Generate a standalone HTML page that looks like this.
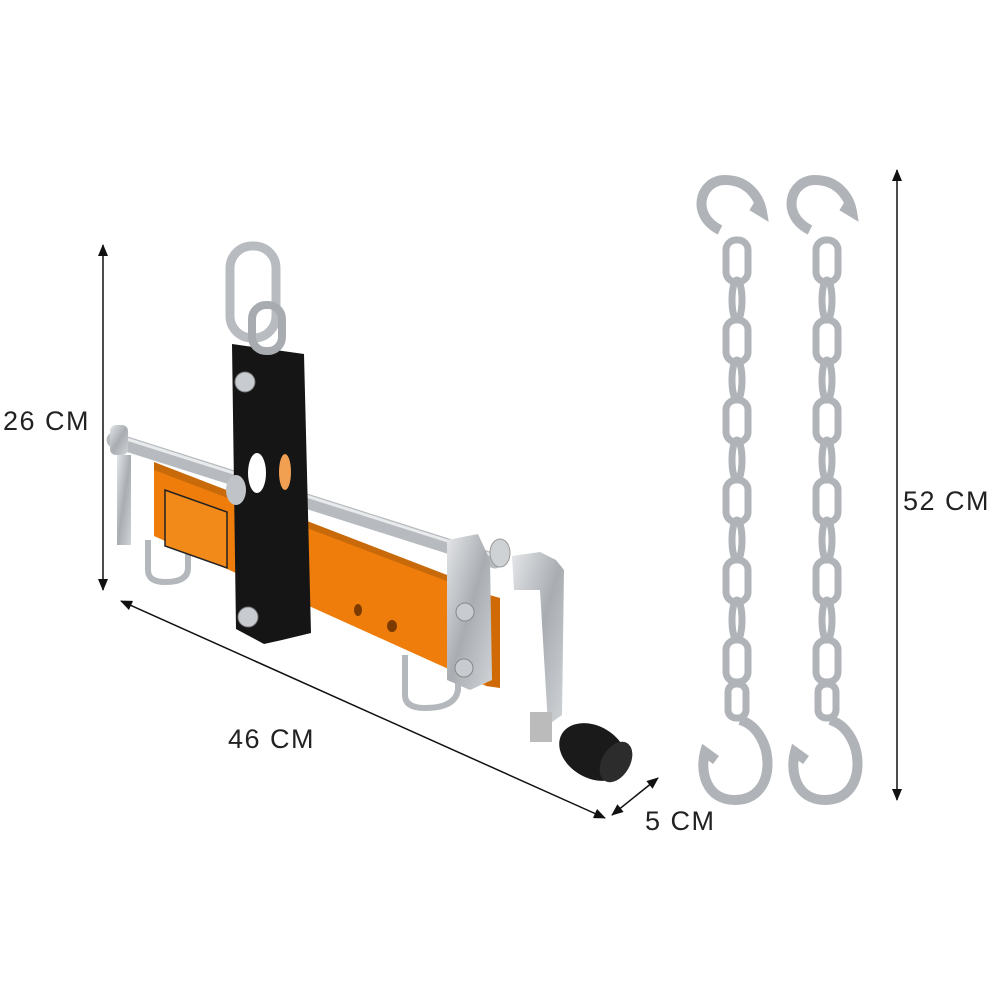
<!DOCTYPE html>
<html><head><meta charset="utf-8"><style>
html,body{margin:0;padding:0;background:#fff;}
svg{display:block}
text{font-family:"Liberation Sans",sans-serif;font-size:27px;fill:#222;letter-spacing:1.5px;}
</style></head><body>
<svg width="1000" height="1000" viewBox="0 0 1000 1000" xmlns="http://www.w3.org/2000/svg">
<defs>
<marker id="ar" markerWidth="12" markerHeight="10" refX="11" refY="5" orient="auto-start-reverse" markerUnits="userSpaceOnUse"><path d="M0,0 L12,5 L0,10 z" fill="#111"/></marker>
<linearGradient id="zinc" x1="0" y1="0" x2="1" y2="1"><stop offset="0" stop-color="#e4e6e8"/><stop offset="0.5" stop-color="#a9adb2"/><stop offset="1" stop-color="#d0d3d6"/></linearGradient>
</defs>
<line x1="103" y1="245" x2="103" y2="590" stroke="#111" stroke-width="1.5" marker-start="url(#ar)" marker-end="url(#ar)"/>
<text x="3" y="430">26 CM</text>
<line x1="121" y1="601" x2="605" y2="818" stroke="#111" stroke-width="1.5" marker-start="url(#ar)" marker-end="url(#ar)"/>
<text x="228" y="748">46 CM</text>
<line x1="612" y1="815" x2="658" y2="778" stroke="#111" stroke-width="1.5" marker-start="url(#ar)" marker-end="url(#ar)"/>
<text x="645" y="830">5 CM</text>
<line x1="897" y1="170" x2="897" y2="800" stroke="#111" stroke-width="1.5" marker-start="url(#ar)" marker-end="url(#ar)"/>
<text x="903" y="510">52 CM</text>

<path d="M148,540 L148,570 Q148,582 165,582 Q188,582 188,568 L188,545" fill="none" stroke="#b4b8bc" stroke-width="6"/>
<path d="M405,655 L405,695 Q405,708 425,708 Q455,708 458,690 L458,662" fill="none" stroke="#b4b8bc" stroke-width="6"/>
<polygon points="154,466 486,594 486,686 154,536" fill="#ee7d0c"/>
<polygon points="154,462 486,590 486,596 154,470" fill="#c96a0a"/>
<polygon points="486,594 500,598 500,688 486,686" fill="#d06a06"/>
<polygon points="165,490 227,512 227,568 165,546" fill="#f28a1a" stroke="#222" stroke-width="1.5"/>
<ellipse cx="358" cy="610" rx="4" ry="6" fill="#7a3a00"/>
<ellipse cx="392" cy="626" rx="5" ry="6" fill="#7a3a00"/>
<line x1="114" y1="440" x2="495" y2="561" stroke="#b7bbbf" stroke-width="15" stroke-linecap="round"/>
<line x1="114" y1="435" x2="495" y2="556" stroke="#e8eaec" stroke-width="3"/>
<rect x="110" y="425" width="18" height="30" rx="6" fill="url(#zinc)"/>
<rect x="117" y="455" width="14" height="90" fill="url(#zinc)"/>
<polygon points="447,540 478,534 490,560 492,680 470,690 447,680" fill="url(#zinc)"/>
<circle cx="465" cy="612" r="9" fill="#c8ccd0" stroke="#888"/>
<circle cx="464" cy="668" r="9" fill="#c8ccd0" stroke="#888"/>
<ellipse cx="500" cy="553" rx="10" ry="14" fill="#cfd2d5" stroke="#999"/>
<polygon points="512,556 540,552 556,560 564,570 562,715 548,725 540,590 514,590" fill="url(#zinc)"/>
<rect x="530" y="712" width="22" height="30" fill="#bbb"/>
<ellipse cx="593" cy="752" rx="36" ry="26" fill="#1a1a1a" transform="rotate(30 593 752)"/>
<ellipse cx="616" cy="762" rx="14" ry="22" fill="#2c2c2c" transform="rotate(30 616 762)"/>
<polygon points="232,344 304,354 311,633 282,640 264,644 236,629" fill="#151515"/>
<ellipse cx="257" cy="473" rx="9" ry="20" fill="#fff"/>
<ellipse cx="285" cy="472" rx="6" ry="18" fill="#f0a050"/>
<circle cx="245" cy="382" r="10" fill="#c8ccd0" stroke="#777"/>
<circle cx="248" cy="617" r="10" fill="#c8ccd0" stroke="#777"/>
<ellipse cx="236" cy="490" rx="10" ry="15" fill="#c0c4c8"/>
<rect x="230" y="246" width="46" height="92" rx="22" fill="none" stroke="#b8bcc0" stroke-width="9"/>
<rect x="252" y="305" width="30" height="46" rx="14" fill="none" stroke="#a8acb0" stroke-width="8"/>

<g fill="none" stroke="#b0b4b8" stroke-width="7">
<g id="chain">
<path d="M720,230 C690,215 700,180 725,180 C750,180 760,200 762,212 L752,206" stroke-width="10"/>
<rect x="726" y="240" width="22" height="42" rx="10"/>
<ellipse cx="737" cy="300" rx="5" ry="20"/>
<rect x="726" y="320" width="22" height="42" rx="10"/>
<ellipse cx="737" cy="380" rx="5" ry="20"/>
<rect x="726" y="400" width="22" height="42" rx="10"/>
<ellipse cx="737" cy="460" rx="5" ry="20"/>
<rect x="726" y="480" width="22" height="42" rx="10"/>
<ellipse cx="737" cy="540" rx="5" ry="20"/>
<rect x="726" y="560" width="22" height="42" rx="10"/>
<ellipse cx="737" cy="620" rx="5" ry="20"/>
<rect x="726" y="640" width="22" height="42" rx="10"/>
<rect x="728" y="684" width="18" height="34" rx="8"/>
<path d="M740,720 C775,730 780,800 735,800 C705,800 700,770 705,752 L716,760" stroke-width="10"/>
</g>
<use href="#chain" transform="translate(90,0)"/>
</g>
</svg>
</body></html>
